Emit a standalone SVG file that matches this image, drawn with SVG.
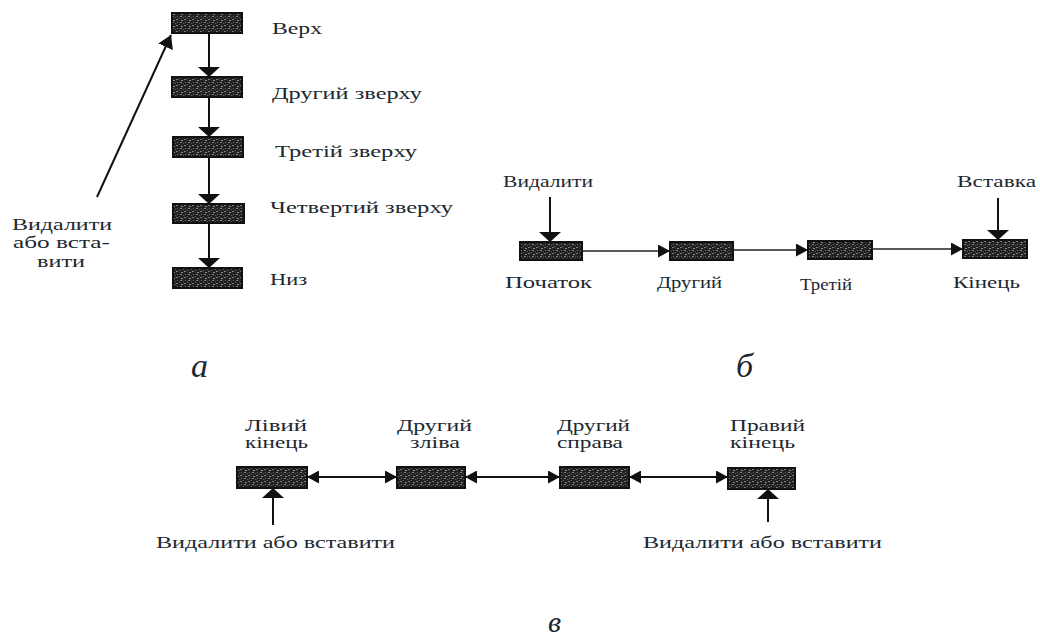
<svg xmlns="http://www.w3.org/2000/svg" width="1040" height="639" viewBox="0 0 1040 639">
  <defs>
    <!-- speckled fill of the list cells -->
    <pattern id="speckle" width="8" height="6" patternUnits="userSpaceOnUse">
      <rect width="8" height="6" fill="#222"/>
      <rect x="0" y="1" width="2" height="1" fill="#7a7a7a"/>
      <rect x="3" y="0" width="1" height="1" fill="#606060"/>
      <rect x="5" y="2" width="2" height="1" fill="#8a8a8a"/>
      <rect x="1" y="4" width="1" height="1" fill="#6d6d6d"/>
      <rect x="4" y="4" width="2" height="1" fill="#7f7f7f"/>
      <rect x="7" y="5" width="1" height="1" fill="#5a5a5a"/>
    </pattern>
    <marker id="headWide" viewBox="0 0 10 22" refX="10" refY="11" markerWidth="10" markerHeight="22" markerUnits="userSpaceOnUse" orient="auto">
      <path d="M0,0 L10,11 L0,22 Z" fill="#111"/>
    </marker>
    <marker id="headDiag" viewBox="0 0 13 16" refX="13" refY="8" markerWidth="13" markerHeight="16" markerUnits="userSpaceOnUse" orient="auto">
      <path d="M0,0 L13,8 L0,16 Z" fill="#111"/>
    </marker>
    <marker id="headSmall" viewBox="0 0 12 13" refX="12" refY="6.5" markerWidth="12" markerHeight="13" markerUnits="userSpaceOnUse" orient="auto-start-reverse">
      <path d="M0,0 L12,6.5 L0,13 Z" fill="#111"/>
    </marker>
    <style>
      .box { fill: url(#speckle); stroke: #111; stroke-width: 2; }
      .wire { stroke: #111; stroke-width: 2; fill: none; }
      .thin { stroke: #222; stroke-width: 1.5; fill: none; }
      .lbl { font-family: "Liberation Serif", "DejaVu Serif", serif; font-size: 17px; fill: #1c2830; }
      .cap { font-family: "Liberation Serif", "DejaVu Serif", serif; font-style: italic; fill: #1c2830; }
    </style>
  </defs>
  <rect width="1040" height="639" fill="#ffffff"/>

  <!-- (a) stack -->
  <g id="stack">
    <g id="a-top"><rect class="box" x="172" y="13" width="70" height="20"/><text class="lbl" x="272" y="34" textLength="50" lengthAdjust="spacingAndGlyphs">Верх</text></g>
    <g id="a-second"><rect class="box" x="172" y="77" width="70" height="20"/><text class="lbl" x="272" y="99" textLength="150" lengthAdjust="spacingAndGlyphs">Другий зверху</text></g>
    <g id="a-third"><rect class="box" x="173" y="137" width="70" height="20"/><text class="lbl" x="275" y="157" textLength="142" lengthAdjust="spacingAndGlyphs">Третій зверху</text></g>
    <g id="a-fourth"><rect class="box" x="173" y="204" width="71" height="19"/><text class="lbl" x="270" y="213" textLength="183" lengthAdjust="spacingAndGlyphs">Четвертий зверху</text></g>
    <g id="a-bottom"><rect class="box" x="173" y="268" width="69" height="20"/><text class="lbl" x="270" y="285" textLength="37" lengthAdjust="spacingAndGlyphs">Низ</text></g>
    <g id="a-access">
      <text class="lbl" x="12" y="230" textLength="100" lengthAdjust="spacingAndGlyphs">Видалити</text>
      <text class="lbl" x="13" y="248" textLength="97" lengthAdjust="spacingAndGlyphs">або вста-</text>
      <text class="lbl" x="37" y="267" textLength="48" lengthAdjust="spacingAndGlyphs">вити</text>
    </g>
  </g>

  <!-- (б) queue -->
  <g id="queue">
    <g id="b-head"><rect class="box" x="520" y="242" width="62" height="18"/><text class="lbl" x="505" y="288" textLength="87" lengthAdjust="spacingAndGlyphs">Початок</text></g>
    <g id="b-second"><rect class="box" x="670" y="242" width="63" height="18"/><text class="lbl" x="657" y="288" textLength="65" lengthAdjust="spacingAndGlyphs">Другий</text></g>
    <g id="b-third"><rect class="box" x="808" y="241" width="64" height="18"/><text class="lbl" x="800" y="290" textLength="52" lengthAdjust="spacingAndGlyphs">Третій</text></g>
    <g id="b-tail"><rect class="box" x="963" y="240" width="64" height="18"/><text class="lbl" x="953" y="288" textLength="67" lengthAdjust="spacingAndGlyphs">Кінець</text></g>
    <g id="b-remove"><text class="lbl" x="503" y="187" textLength="90" lengthAdjust="spacingAndGlyphs">Видалити</text></g>
    <g id="b-insert"><text class="lbl" x="957" y="187" textLength="79" lengthAdjust="spacingAndGlyphs">Вставка</text></g>
  </g>

  <!-- (в) deque -->
  <g id="deque">
    <g id="c-left"><rect class="box" x="237" y="467" width="70" height="21"/>
      <text class="lbl" x="245" y="431" textLength="62" lengthAdjust="spacingAndGlyphs">Лівий</text>
      <text class="lbl" x="245" y="448" textLength="63" lengthAdjust="spacingAndGlyphs">кінець</text></g>
    <g id="c-second-left"><rect class="box" x="397" y="467" width="68" height="21"/>
      <text class="lbl" x="397" y="431" textLength="75" lengthAdjust="spacingAndGlyphs">Другий</text>
      <text class="lbl" x="410" y="448" textLength="50" lengthAdjust="spacingAndGlyphs">зліва</text></g>
    <g id="c-second-right"><rect class="box" x="560" y="467" width="69" height="21"/>
      <text class="lbl" x="557" y="431" textLength="73" lengthAdjust="spacingAndGlyphs">Другий</text>
      <text class="lbl" x="557" y="448" textLength="66" lengthAdjust="spacingAndGlyphs">справа</text></g>
    <g id="c-right"><rect class="box" x="728" y="468" width="67" height="21"/>
      <text class="lbl" x="730" y="431" textLength="75" lengthAdjust="spacingAndGlyphs">Правий</text>
      <text class="lbl" x="730" y="448" textLength="65" lengthAdjust="spacingAndGlyphs">кінець</text></g>
    <g id="c-left-access"><text class="lbl" x="156" y="548" textLength="239" lengthAdjust="spacingAndGlyphs">Видалити або вставити</text></g>
    <g id="c-right-access"><text class="lbl" x="643" y="548" textLength="239" lengthAdjust="spacingAndGlyphs">Видалити або вставити</text></g>
  </g>

  <!-- connectors -->
  <g id="connectors">
    <line class="wire" x1="209" y1="33" x2="209" y2="77" marker-end="url(#headWide)"/>
    <line class="wire" x1="209" y1="97" x2="209" y2="137" marker-end="url(#headWide)"/>
    <line class="wire" x1="209" y1="157" x2="209" y2="204" marker-end="url(#headWide)"/>
    <line class="wire" x1="209" y1="223" x2="209" y2="268" marker-end="url(#headWide)"/>
    <line class="wire" x1="97" y1="197" x2="171" y2="35" marker-end="url(#headDiag)"/>

    <line class="thin" x1="582" y1="251" x2="670" y2="251" marker-end="url(#headSmall)"/>
    <line class="thin" x1="733" y1="250" x2="808" y2="250" marker-end="url(#headSmall)"/>
    <line class="thin" x1="872" y1="249" x2="963" y2="249" marker-end="url(#headSmall)"/>
    <line class="wire" x1="550" y1="197" x2="550" y2="242" marker-end="url(#headWide)"/>
    <line class="wire" x1="998" y1="198" x2="998" y2="240" marker-end="url(#headWide)"/>

    <line class="wire" x1="307" y1="477" x2="397" y2="477" marker-start="url(#headSmall)" marker-end="url(#headSmall)"/>
    <line class="wire" x1="465" y1="477" x2="560" y2="477" marker-start="url(#headSmall)" marker-end="url(#headSmall)"/>
    <line class="wire" x1="629" y1="477" x2="728" y2="477" marker-start="url(#headSmall)" marker-end="url(#headSmall)"/>
    <line class="wire" x1="273" y1="525" x2="273" y2="488" marker-end="url(#headWide)"/>
    <line class="wire" x1="768" y1="522" x2="768" y2="489" marker-end="url(#headWide)"/>
  </g>

  <!-- part captions -->
  <text class="cap" x="191" y="377" font-size="34">а</text>
  <text class="cap" x="736" y="377" font-size="34">б</text>
  <text class="cap" x="548" y="632" font-size="30">в</text>
</svg>
